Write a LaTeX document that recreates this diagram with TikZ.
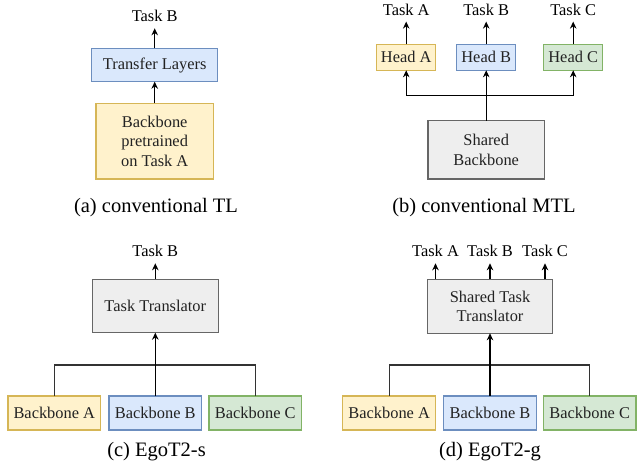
\documentclass[tikz,border=0pt]{standalone}
\usepackage{fontspec}
\setmainfont{Liberation Serif}
\usetikzlibrary{arrows.meta}
\definecolor{yfill}{HTML}{FFF2CC}\definecolor{ydraw}{HTML}{D6B656}
\definecolor{bfill}{HTML}{DAE8FC}\definecolor{bdraw}{HTML}{6C8EBF}
\definecolor{gfill}{HTML}{D5E8D4}\definecolor{gdraw}{HTML}{82B366}
\definecolor{sfill}{HTML}{EEEEEE}\definecolor{sdraw}{HTML}{666666}
\definecolor{txt}{HTML}{222222}
\begin{document}
\begin{tikzpicture}[x=1pt,y=-1pt,
  box/.style={draw, line width=1.5pt, inner sep=0pt, outer sep=0pt, align=center,
    text=txt, font=\fontsize{16.4}{19.5}\selectfont},
  ybox/.style={box, fill=yfill, draw=ydraw},
  bbox/.style={box, fill=bfill, draw=bdraw},
  gbox/.style={box, fill=gfill, draw=gdraw},
  sbox/.style={box, fill=sfill, draw=sdraw},
  lbl/.style={inner xsep=1pt, inner ysep=6.6pt, outer sep=0pt, text depth=0pt, anchor=base,
    font=\fontsize{16.4}{19.5}\selectfont},
  captext/.style={anchor=base, inner sep=0pt, font=\fontsize{20.5}{24}\selectfont},
  arr/.style={draw=black, line width=1.4pt, -{Stealth[length=7pt,width=6.5pt]}},
  conn/.style={draw=black!80, line width=1.4pt}
]
\useasboundingbox (0,0) rectangle (637,467);

% (a)
\node[bbox, minimum width=126pt, minimum height=33.4pt] (tl) at (154.7,65) {Transfer Layers};
\node[ybox, minimum width=117.3pt, minimum height=75.7pt] (bp) at (154.7,141.2) {Backbone\\pretrained\\on Task A};
\node[lbl] (ta1) at (154.7,21.7) {Task B};
\draw[arr] (bp) -- (tl);
\draw[arr] (tl) -- (ta1);
\node[captext] (capa) at (156,212) {(a) conventional TL};

% (b)
\node[ybox, minimum width=59pt, minimum height=26pt] (ha) at (406.2,57.3) {Head A};
\node[bbox, minimum width=59pt, minimum height=26pt] (hb) at (486.2,57.3) {Head B};
\node[gbox, minimum width=59pt, minimum height=26pt] (hc) at (573.2,57.3) {Head C};
\node[sbox, minimum width=116.7pt, minimum height=58.3pt] (sb) at (486.2,149.8) {Shared\\Backbone};
\node[lbl] (la) at (406.2,15) {Task A};
\node[lbl] (lb) at (486.2,15) {Task B};
\node[lbl] (lc) at (573.2,15) {Task C};
\draw[arr] (ha) -- (la);
\draw[arr] (hb) -- (lb);
\draw[arr] (hc) -- (lc);
\coordinate (jb) at (486.2,95.7);
\draw[arr] (sb.north) -- (hb.south);
\draw[arr] (jb) -| (ha.south);
\draw[arr] (jb) -| (hc.south);
\node[captext] (capb) at (484,212) {(b) conventional MTL};

% (c)
\node[sbox, minimum width=126pt, minimum height=53.4pt] (tt) at (155.3,306) {Task Translator};
\node[ybox, minimum width=92.7pt, minimum height=34pt] (cba) at (54.3,413) {Backbone A};
\node[bbox, minimum width=92.7pt, minimum height=34pt] (cbb) at (155.3,413) {Backbone B};
\node[gbox, minimum width=92.7pt, minimum height=34pt] (cbc) at (255.3,413) {Backbone C};
\node[lbl] (ctb) at (155.3,256.7) {Task B};
\coordinate (jc) at (155.3,365);
\draw[conn] (cba.north) |- (jc) -| (cbc.north);
\draw[arr] (cbb) -- (tt);
\draw[arr] (tt) -- (ctb);
\node[captext] (capc) at (156.5,456) {(c) EgoT2-s};

% (d)
\node[sbox, minimum width=125.4pt, minimum height=54pt] (stt) at (490,306.3) {Shared Task\\Translator};
\node[ybox, minimum width=93pt, minimum height=34pt] (dba) at (389.2,413) {Backbone A};
\node[bbox, minimum width=92.7pt, minimum height=34pt] (dbb) at (490,413) {Backbone B};
\node[gbox, minimum width=92.7pt, minimum height=34pt] (dbc) at (589.7,413) {Backbone C};
\node[lbl] (dta) at (435.5,256.7) {Task A};
\node[lbl] (dtb) at (490,256.7) {Task B};
\node[lbl] (dtc) at (545,256.7) {Task C};
\draw[arr] (dta |- stt.north) -- (dta);
\draw[arr] (stt) -- (dtb);
\draw[arr] (dtc |- stt.north) -- (dtc);
\coordinate (jd) at (490,365);
\draw[conn] (dba.north) |- (jd) -| (dbc.north);
\draw[arr] (dbb) -- (stt);
\node[captext] (capd) at (490,456) {(d) EgoT2-g};
\end{tikzpicture}
\end{document}
